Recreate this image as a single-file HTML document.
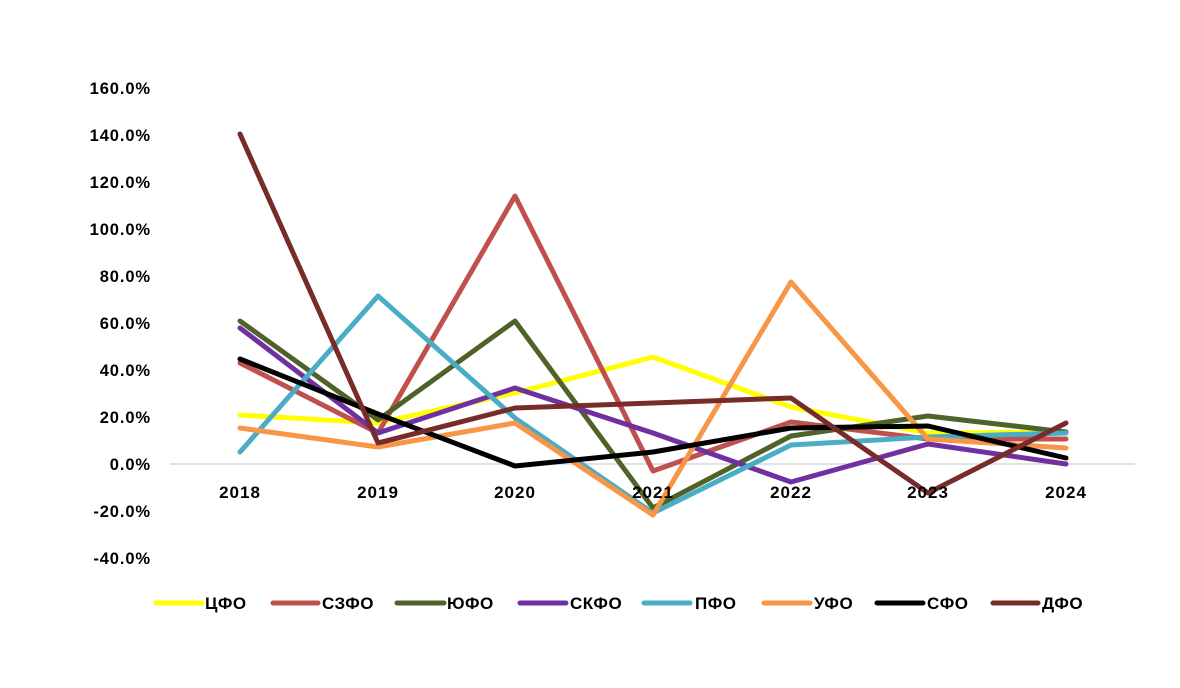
<!DOCTYPE html>
<html><head><meta charset="utf-8"><style>
html,body{margin:0;padding:0;background:#fff;}
svg text{font-family:"Liberation Sans","DejaVu Sans",sans-serif;font-weight:bold;fill:#000;}
</style></head><body>
<svg width="1180" height="683" viewBox="0 0 1180 683" xmlns="http://www.w3.org/2000/svg">
<rect width="1180" height="683" fill="#fff"/>
<line x1="170" y1="464" x2="1135" y2="464" stroke="#d9d9d9" stroke-width="1.5"/>
<g font-size="16.5" text-anchor="end" letter-spacing="0.9">
<text x="151" y="94">160.0%</text>
<text x="151" y="141">140.0%</text>
<text x="151" y="188">120.0%</text>
<text x="151" y="235">100.0%</text>
<text x="151" y="282">80.0%</text>
<text x="151" y="329">60.0%</text>
<text x="151" y="376">40.0%</text>
<text x="151" y="423">20.0%</text>
<text x="151" y="470">0.0%</text>
<text x="151" y="517">-20.0%</text>
<text x="151" y="564">-40.0%</text>
</g>
<g fill="none" stroke-width="5" stroke-linejoin="round" stroke-linecap="round">
<polyline stroke="#ffff00" points="240,415 378,423 515,393 653,357 791,407 928,433 1066,432"/>
<polyline stroke="#c0504d" points="240,363 378,433 515,196 653,471 791,422 928,439 1066,439"/>
<polyline stroke="#4f6228" points="240,321 378,420 515,321 653,508 791,436 928,416 1066,432"/>
<polyline stroke="#7030a0" points="240,328 378,433 515,388 653,433 791,482 928,444 1066,464"/>
<polyline stroke="#4bacc6" points="240,452 378,296 515,418 653,513 791,445 928,437 1066,433"/>
<polyline stroke="#f79646" points="240,428 378,447 515,423 653,515 791,282 928,439 1066,448"/>
<polyline stroke="#000000" points="240,359 378,414 515,466 653,452 791,428 928,426 1066,458"/>
<polyline stroke="#772c2a" points="240,134 378,443 515,408 653,403 791,398 928,493 1066,423"/>
</g>
<g font-size="17" text-anchor="middle" letter-spacing="1">
<text x="240" y="498">2018</text>
<text x="378" y="498">2019</text>
<text x="515" y="498">2020</text>
<text x="653" y="498">2021</text>
<text x="791" y="498">2022</text>
<text x="928" y="498">2023</text>
<text x="1066" y="498">2024</text>
</g>
<g stroke-width="5" stroke-linecap="round">
<line x1="156" y1="603" x2="202" y2="603" stroke="#ffff00"/>
<line x1="273" y1="603" x2="318" y2="603" stroke="#c0504d"/>
<line x1="397" y1="603" x2="444" y2="603" stroke="#4f6228"/>
<line x1="520" y1="603" x2="566" y2="603" stroke="#7030a0"/>
<line x1="644" y1="603" x2="690" y2="603" stroke="#4bacc6"/>
<line x1="764" y1="603" x2="810" y2="603" stroke="#f79646"/>
<line x1="877" y1="603" x2="923" y2="603" stroke="#000000"/>
<line x1="993" y1="603" x2="1038" y2="603" stroke="#772c2a"/>
</g>
<g font-size="17" letter-spacing="0.5">
<text x="205" y="609">ЦФО</text>
<text x="322" y="609">СЗФО</text>
<text x="447" y="609">ЮФО</text>
<text x="570" y="609">СКФО</text>
<text x="695" y="609">ПФО</text>
<text x="814" y="609">УФО</text>
<text x="927" y="609">СФО</text>
<text x="1042" y="609">ДФО</text>
</g>
</svg>
</body></html>
